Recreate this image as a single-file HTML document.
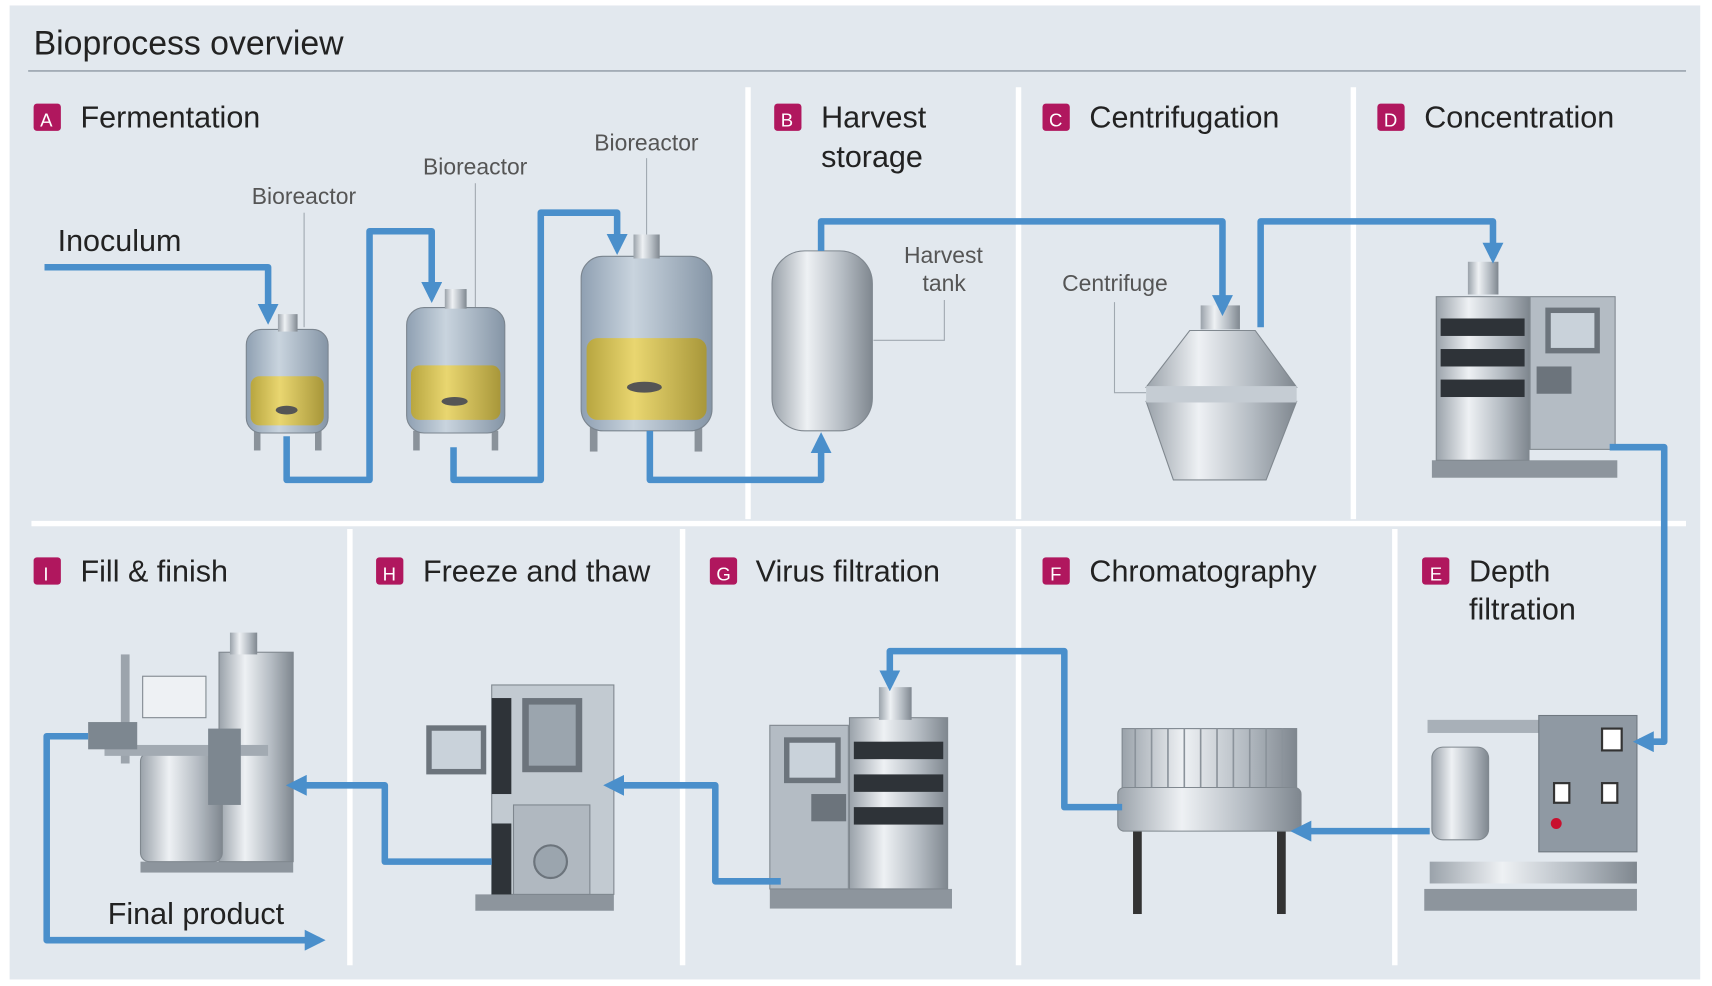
<!DOCTYPE html>
<html><head><meta charset="utf-8"><style>
html,body{margin:0;padding:0;background:#fff}
svg{display:block}
text{font-family:"Liberation Sans",sans-serif}
</style></head><body>
<svg width="1712" height="986" viewBox="0 0 1568 904" xmlns="http://www.w3.org/2000/svg">
<defs>
<linearGradient id="steel" x1="0" x2="1" y1="0" y2="0">
<stop offset="0" stop-color="#9aa2aa"/><stop offset="0.35" stop-color="#eef1f4"/><stop offset="0.7" stop-color="#b5bcc3"/><stop offset="1" stop-color="#7f878f"/></linearGradient>
<linearGradient id="gold" x1="0" x2="1"><stop offset="0" stop-color="#b8a640"/><stop offset="0.4" stop-color="#e9d670"/><stop offset="1" stop-color="#a8973a"/></linearGradient>
<linearGradient id="glass" x1="0" x2="1"><stop offset="0" stop-color="#8fa0b2"/><stop offset="0.4" stop-color="#c9d4de"/><stop offset="1" stop-color="#8595a6"/></linearGradient>
<marker id="ar" viewBox="0 0 10 10" refX="7" refY="5" markerWidth="3.2" markerHeight="3.2" orient="auto"><path d="M0,0 L10,5 L0,10 z" fill="#4a8fcb"/></marker>
</defs>
<rect x="0" y="0" width="1568" height="904" fill="#fff"/>
<rect x="8" y="5" width="1550" height="893" fill="#e2e8ee"/>
<text x="30" y="50" font-size="31" fill="#222">Bioprocess overview</text>
<line x1="25" y1="65" x2="1545" y2="65" stroke="#9aa4ae" stroke-width="1.5"/>
<g stroke="#fff" stroke-width="5">
<line x1="685" y1="80" x2="685" y2="476"/><line x1="933" y1="80" x2="933" y2="476"/><line x1="1240" y1="80" x2="1240" y2="476"/>
<line x1="28" y1="480" x2="1545" y2="480"/>
<line x1="320" y1="485" x2="320" y2="885"/><line x1="625" y1="485" x2="625" y2="885"/><line x1="933" y1="485" x2="933" y2="885"/><line x1="1278" y1="485" x2="1278" y2="885"/>
</g>
<g font-size="28" fill="#222">
<rect x="30" y="95" width="25" height="25" rx="3" fill="#b0175e"/><text x="36" y="116" font-size="17" fill="#fff">A</text><text x="73" y="117">Fermentation</text>
<rect x="709" y="95" width="25" height="25" rx="3" fill="#b0175e"/><text x="715" y="116" font-size="17" fill="#fff">B</text><text x="752" y="117">Harvest</text><text x="752" y="153">storage</text>
<rect x="955" y="95" width="25" height="25" rx="3" fill="#b0175e"/><text x="961" y="116" font-size="17" fill="#fff">C</text><text x="998" y="117">Centrifugation</text>
<rect x="1262" y="95" width="25" height="25" rx="3" fill="#b0175e"/><text x="1268" y="116" font-size="17" fill="#fff">D</text><text x="1305" y="117">Concentration</text>
<rect x="30" y="511" width="25" height="25" rx="3" fill="#b0175e"/><text x="39" y="532" font-size="17" fill="#fff">I</text><text x="73" y="533">Fill &amp; finish</text>
<rect x="344" y="511" width="25" height="25" rx="3" fill="#b0175e"/><text x="350" y="532" font-size="17" fill="#fff">H</text><text x="387" y="533">Freeze and thaw</text>
<rect x="650" y="511" width="25" height="25" rx="3" fill="#b0175e"/><text x="656" y="532" font-size="17" fill="#fff">G</text><text x="692" y="533">Virus filtration</text>
<rect x="955" y="511" width="25" height="25" rx="3" fill="#b0175e"/><text x="962" y="532" font-size="17" fill="#fff">F</text><text x="998" y="533">Chromatography</text>
<rect x="1303" y="511" width="25" height="25" rx="3" fill="#b0175e"/><text x="1310" y="532" font-size="17" fill="#fff">E</text><text x="1346" y="533">Depth</text><text x="1346" y="568">filtration</text>
<text x="52" y="230">Inoculum</text>
<text x="98" y="847">Final product</text>
</g>
<g font-size="21" fill="#555">
<text x="230" y="187">Bioreactor</text><text x="387" y="160">Bioreactor</text><text x="544" y="138">Bioreactor</text>
<text x="828" y="241">Harvest</text><text x="845" y="267">tank</text><text x="973" y="267">Centrifuge</text>
</g>
<g stroke="#a0a8b0" stroke-width="1" fill="none">
<line x1="278" y1="195" x2="278" y2="300"/><line x1="435" y1="168" x2="435" y2="285"/><line x1="592" y1="145" x2="592" y2="235"/>
<polyline points="865,275 865,312 800,312"/><polyline points="1021,277 1021,360 1050,360"/>
</g>
<g>
<rect x="232" y="395" width="6" height="18" fill="#8a929a"/><rect x="288" y="395" width="6" height="18" fill="#8a929a"/>
<rect x="225" y="302" width="75" height="95" rx="14" fill="url(#glass)" stroke="#7b858f"/>
<rect x="229" y="345" width="67" height="45" rx="8" fill="url(#gold)"/>
<rect x="254" y="288" width="18" height="16" fill="url(#steel)"/>
<rect x="378" y="395" width="6" height="18" fill="#8a929a"/><rect x="450" y="395" width="6" height="18" fill="#8a929a"/>
<rect x="372" y="282" width="90" height="115" rx="16" fill="url(#glass)" stroke="#7b858f"/>
<rect x="376" y="335" width="82" height="50" rx="8" fill="url(#gold)"/>
<rect x="407" y="265" width="20" height="18" fill="url(#steel)"/>
<rect x="540" y="390" width="7" height="24" fill="#8a929a"/><rect x="636" y="390" width="7" height="24" fill="#8a929a"/>
<rect x="532" y="235" width="120" height="160" rx="20" fill="url(#glass)" stroke="#7b858f"/>
<rect x="537" y="310" width="110" height="75" rx="10" fill="url(#gold)"/>
<rect x="580" y="215" width="24" height="22" fill="url(#steel)"/>
<ellipse cx="262" cy="376" rx="10" ry="4" fill="#555"/><ellipse cx="416" cy="368" rx="12" ry="4" fill="#555"/><ellipse cx="590" cy="355" rx="16" ry="5" fill="#555"/>
</g>
<rect x="707" y="230" width="92" height="165" rx="30" fill="url(#steel)" stroke="#7f878f"/>
<rect x="1100" y="280" width="36" height="22" fill="url(#steel)"/>
<polygon points="1050,355 1090,303 1150,303 1188,355" fill="url(#steel)" stroke="#80888f"/>
<polygon points="1050,368 1188,368 1160,440 1075,440" fill="url(#steel)" stroke="#80888f"/>
<rect x="1050" y="354" width="138" height="15" fill="#c5ccd3"/>
<rect x="1312" y="422" width="170" height="16" fill="#8d959d"/>
<rect x="1316" y="272" width="85" height="150" fill="url(#steel)" stroke="#80888f"/>
<g fill="#2e3338"><rect x="1320" y="292" width="77" height="16"/><rect x="1320" y="320" width="77" height="16"/><rect x="1320" y="348" width="77" height="16"/></g>
<rect x="1402" y="272" width="78" height="140" fill="#b4bcc4" stroke="#80888f"/>
<rect x="1416" y="282" width="50" height="42" fill="#6c747c"/><rect x="1421" y="287" width="40" height="32" fill="#c9d2da"/>
<rect x="1408" y="336" width="32" height="25" fill="#6c747c"/>
<rect x="1345" y="240" width="28" height="30" fill="url(#steel)"/>
<rect x="1305" y="815" width="195" height="20" fill="#8d959d"/>
<rect x="1308" y="660" width="105" height="12" fill="#a8b0b8"/>
<rect x="1410" y="656" width="90" height="125" fill="#8f99a3" stroke="#6f7880"/>
<rect x="1468" y="668" width="18" height="20" fill="#fff" stroke="#333" stroke-width="2"/>
<rect x="1424" y="718" width="14" height="18" fill="#fff" stroke="#333" stroke-width="2"/><rect x="1468" y="718" width="14" height="18" fill="#fff" stroke="#333" stroke-width="2"/>
<circle cx="1426" cy="755" r="5" fill="#c8102e"/>
<rect x="1312" y="685" width="52" height="85" rx="10" fill="url(#steel)" stroke="#80888f"/>
<rect x="1310" y="790" width="190" height="20" fill="url(#steel)"/>
<rect x="1038" y="760" width="8" height="78" fill="#333"/><rect x="1170" y="760" width="8" height="78" fill="#333"/>
<rect x="1028" y="668" width="160" height="56" fill="url(#steel)" stroke="#80888f"/>
<g stroke="#8b939b" stroke-width="1.5"><line x1="1040" y1="668" x2="1040" y2="724"/><line x1="1055" y1="668" x2="1055" y2="724"/><line x1="1070" y1="668" x2="1070" y2="724"/><line x1="1085" y1="668" x2="1085" y2="724"/><line x1="1100" y1="668" x2="1100" y2="724"/><line x1="1115" y1="668" x2="1115" y2="724"/><line x1="1130" y1="668" x2="1130" y2="724"/><line x1="1145" y1="668" x2="1145" y2="724"/><line x1="1160" y1="668" x2="1160" y2="724"/><line x1="1175" y1="668" x2="1175" y2="724"/></g>
<rect x="1024" y="722" width="168" height="40" rx="6" fill="url(#steel)" stroke="#80888f"/>
<rect x="705" y="815" width="167" height="18" fill="#8d959d"/>
<rect x="705" y="665" width="72" height="150" fill="#b4bcc4" stroke="#80888f"/>
<rect x="718" y="676" width="52" height="42" fill="#6c747c"/><rect x="723" y="681" width="42" height="32" fill="#c9d2da"/>
<rect x="743" y="728" width="32" height="25" fill="#6c747c"/>
<rect x="778" y="658" width="90" height="157" fill="url(#steel)" stroke="#80888f"/>
<g fill="#2e3338"><rect x="782" y="680" width="82" height="16"/><rect x="782" y="710" width="82" height="16"/><rect x="782" y="740" width="82" height="16"/></g>
<rect x="805" y="630" width="30" height="30" fill="url(#steel)"/>
<rect x="435" y="820" width="127" height="15" fill="#8d959d"/>
<rect x="450" y="628" width="112" height="192" fill="#c2cad1" stroke="#80888f"/>
<rect x="450" y="640" width="18" height="88" fill="#2e3338"/><rect x="450" y="755" width="18" height="65" fill="#2e3338"/>
<rect x="478" y="640" width="55" height="68" fill="#6c747c"/><rect x="484" y="646" width="43" height="56" fill="#9ba5ae"/>
<rect x="470" y="738" width="70" height="82" fill="#b0b8c0" stroke="#7f878f"/>
<circle cx="504" cy="790" r="15" fill="#9ba5ae" stroke="#6c747c" stroke-width="2"/>
<rect x="390" y="665" width="55" height="45" fill="#6c747c"/><rect x="395" y="670" width="45" height="35" fill="#c9d2da"/>
<rect x="128" y="790" width="140" height="10" fill="#8d959d"/>
<rect x="200" y="598" width="68" height="192" fill="url(#steel)" stroke="#80888f"/>
<rect x="210" y="580" width="25" height="20" fill="url(#steel)"/>
<rect x="128" y="690" width="75" height="100" rx="8" fill="url(#steel)" stroke="#80888f"/>
<rect x="130" y="620" width="58" height="38" fill="#eef1f4" stroke="#80888f"/>
<rect x="110" y="600" width="8" height="100" fill="#9ca4ac"/>
<rect x="95" y="683" width="150" height="10" fill="#a2aab2"/>
<rect x="190" y="668" width="30" height="70" fill="#7d8790"/>
<rect x="80" y="662" width="45" height="25" fill="#7d8790"/>
<g fill="none" stroke="#4a8fcb" stroke-width="6" stroke-linejoin="round">
<polyline points="40,245 245,245 245,292" marker-end="url(#ar)"/>
<polyline points="262,400 262,440 338,440 338,212 395,212 395,272" marker-end="url(#ar)"/>
<polyline points="415,410 415,440 495,440 495,195 565,195 565,228" marker-end="url(#ar)"/>
<polyline points="595,395 595,440 752,440 752,402" marker-end="url(#ar)"/>
<polyline points="752,230 752,203 1120,203 1120,284" marker-end="url(#ar)"/>
<polyline points="1155,300 1155,203 1368,203 1368,236" marker-end="url(#ar)"/>
<polyline points="1475,410 1525,410 1525,680 1502,680" marker-end="url(#ar)"/>
<polyline points="1310,762 1188,762" marker-end="url(#ar)"/>
<polyline points="1028,740 975,740 975,597 815,597 815,628" marker-end="url(#ar)"/>
<polyline points="715,808 655,808 655,720 558,720" marker-end="url(#ar)"/>
<polyline points="450,790 352,790 352,720 267,720" marker-end="url(#ar)"/>
<polyline points="80,675 42,675 42,862 292,862" marker-end="url(#ar)"/>
</g>
</svg>
</body></html>
